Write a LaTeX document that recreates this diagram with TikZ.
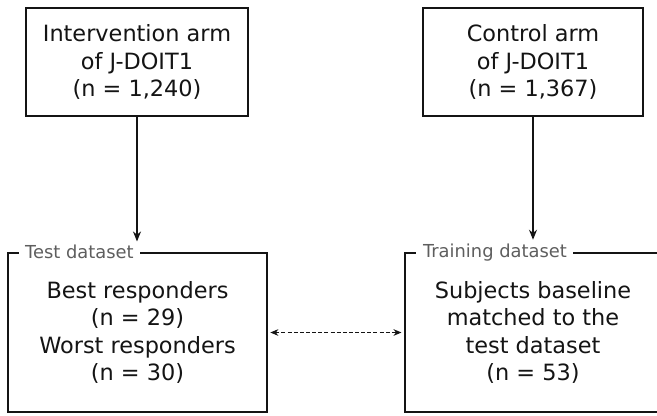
\documentclass[tikz,border=0pt]{standalone}
\usepackage{fontspec}
\setmainfont{DejaVu Sans}
\usetikzlibrary{arrows.meta,positioning,calc}
\definecolor{ink}{HTML}{141414}
\definecolor{ink2}{HTML}{5E5E5E}
\tikzset{
  >={Stealth[length=7.5pt,width=6pt]},
  every picture/.style={line cap=butt, line join=miter},
  arm/.style={draw=ink, fill=white, line width=1.3pt, align=center, text=ink,
    font=\fontsize{16.8}{20.6}\selectfont, inner sep=0pt},
  setbox/.style={arm},
  setlbl/.style={fill=white, text=ink2, font=\fontsize{13.4}{15}\selectfont,
    inner xsep=5pt, inner ysep=2pt, anchor=west},
  arr/.style={->, draw=ink, line width=0.8pt},
  linkarr/.style={{Stealth[length=6pt,width=5pt]}-{Stealth[length=6pt,width=5pt]},
    draw=ink, line width=0.8pt, dash pattern=on 3pt off 1.6pt,
    shorten <=2pt, shorten >=2pt},
}

\begin{document}
\begin{tikzpicture}[x=0.75pt, y=-0.75pt]
  \useasboundingbox (0,0) rectangle (657,415);
  \clip (0,0) rectangle (657,415);
  % ---------------- study arms ----------------
  \node[arm, minimum width=166.5pt, minimum height=81pt] (armI) at (137,62)
    {Intervention arm\\ of J-DOIT1\\ (n = 1,240)};
  \node[arm, minimum width=165pt, minimum height=81pt] (armC) at (533,62)
    {Control arm\\ of J-DOIT1\\ (n = 1,367)};

  % ---------------- datasets ----------------
  \node[setbox, minimum width=194pt, minimum height=119pt] (test) at (137.5,332.5)
    {Best responders\\ (n = 29)\\ Worst responders\\ (n = 30)};
  \node[setbox, minimum width=192pt, minimum height=119pt] (train) at (533,332.5)
    {Subjects baseline\\ matched to the\\ test dataset\\ (n = 53)};
  \node[setlbl] (testlbl) at ($(test.north west)+(11,0)$) {Test dataset};
  \node[setlbl] (trainlbl) at ($(train.north west)+(12,0)$) {Training dataset};

  \draw[arr] (armI.south) -- ($(armI.south |- testlbl.north)+(0,-1)$);
  \draw[arr] (armC.south) -- ($(armC.south |- trainlbl.north)+(0,-1)$);
  \draw[linkarr] (test.east) -- (train.west);
\end{tikzpicture}
\end{document}
